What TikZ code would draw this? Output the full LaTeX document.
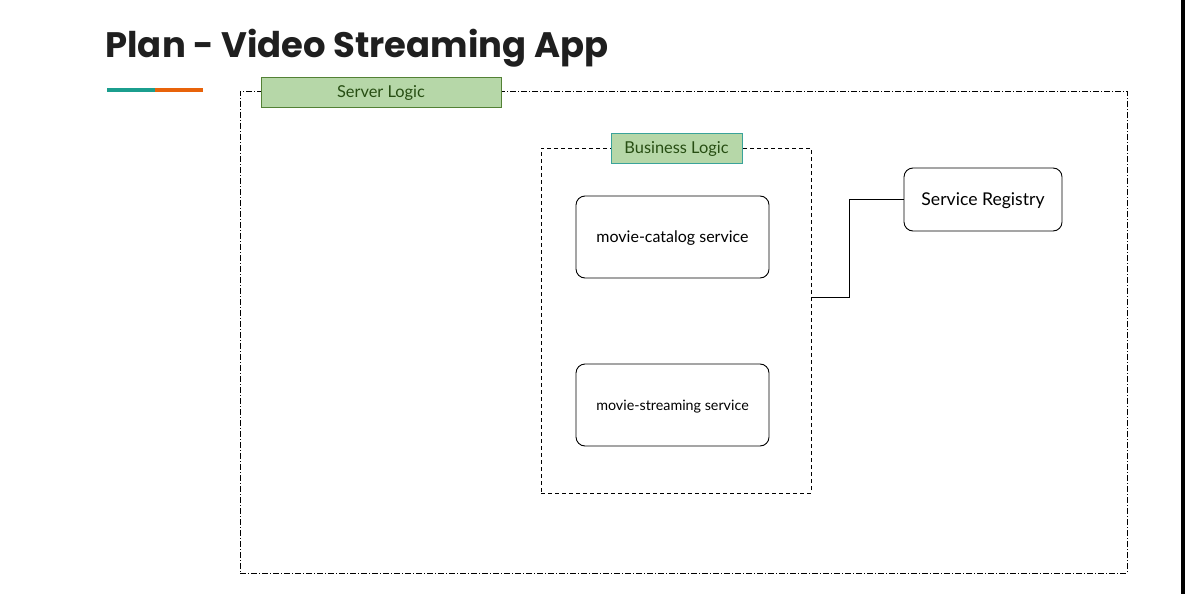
\documentclass[tikz,border=0pt]{standalone}
\usepackage{fontspec}
\setmainfont{Lato}
\newfontfamily\titlefont{Poppins}
\usepackage{tikz}
\usetikzlibrary{positioning,calc}

\definecolor{labelfill}{HTML}{B6D7A8}
\definecolor{labeltext}{HTML}{274E13}
\definecolor{labeledge}{HTML}{538135}
\definecolor{bizedge}{HTML}{3AA39A}
\definecolor{barteal}{HTML}{1B9E8E}
\definecolor{barorange}{HTML}{E8630A}

\begin{document}
\begin{tikzpicture}[x=1pt,y=-1pt,line width=0.9pt,
  group/.style={draw,rectangle,inner sep=0pt},
  tag/.style={draw=labeledge,fill=labelfill,text=labeltext,inner sep=0pt,text depth=0pt,font=\fontsize{16.4}{19}\selectfont},
  svc/.style={draw,rounded corners=9pt,inner sep=0pt,text depth=0pt,font=\fontsize{16}{19}\selectfont}]
\useasboundingbox (0,0) rectangle (1185,594);
\fill[black] (1181,0) rectangle (1185,594);
\node[anchor=base west,inner sep=0pt,font=\titlefont\bfseries\fontsize{35.4}{42}\selectfont,text=black!88] (title) at (105,57) {Plan - Video Streaming App};
\fill[barteal] (107,88) rectangle (155,92);
\fill[barorange] (155,88) rectangle (203,92);
% outer box
\node[group,dash pattern=on 6pt off 2pt on 1pt off 2pt,minimum width=887pt,minimum height=482pt] (server) at (683.5,332) {};
\node[tag,minimum width=240pt,minimum height=30pt] (serverlbl) at (381,92) {Server Logic};
% business logic box
\node[group,dash pattern=on 4pt off 3pt,minimum width=270pt,minimum height=345pt] (biz) at (676,320.5) {};
\node[tag,draw=bizedge,minimum width=131pt,minimum height=30pt] (bizlbl) at (676.5,148) {Business Logic};
\node[svc,minimum width=193pt,minimum height=82pt] (catalog) at (672.5,237) {movie-catalog service};
\node[svc,minimum width=193pt,minimum height=82pt,font=\fontsize{14.3}{17}\selectfont] (streaming) at (672.5,405) {movie-streaming service};
\node[svc,minimum width=158pt,minimum height=63pt,font=\fontsize{17.6}{21}\selectfont] (registry) at (983,199.5) {Service Registry};
\coordinate (bizport) at (biz.east |- 0,297);
\draw[line width=1pt] (bizport) -- ++(38,0) |- (registry.west);
\end{tikzpicture}
\end{document}
